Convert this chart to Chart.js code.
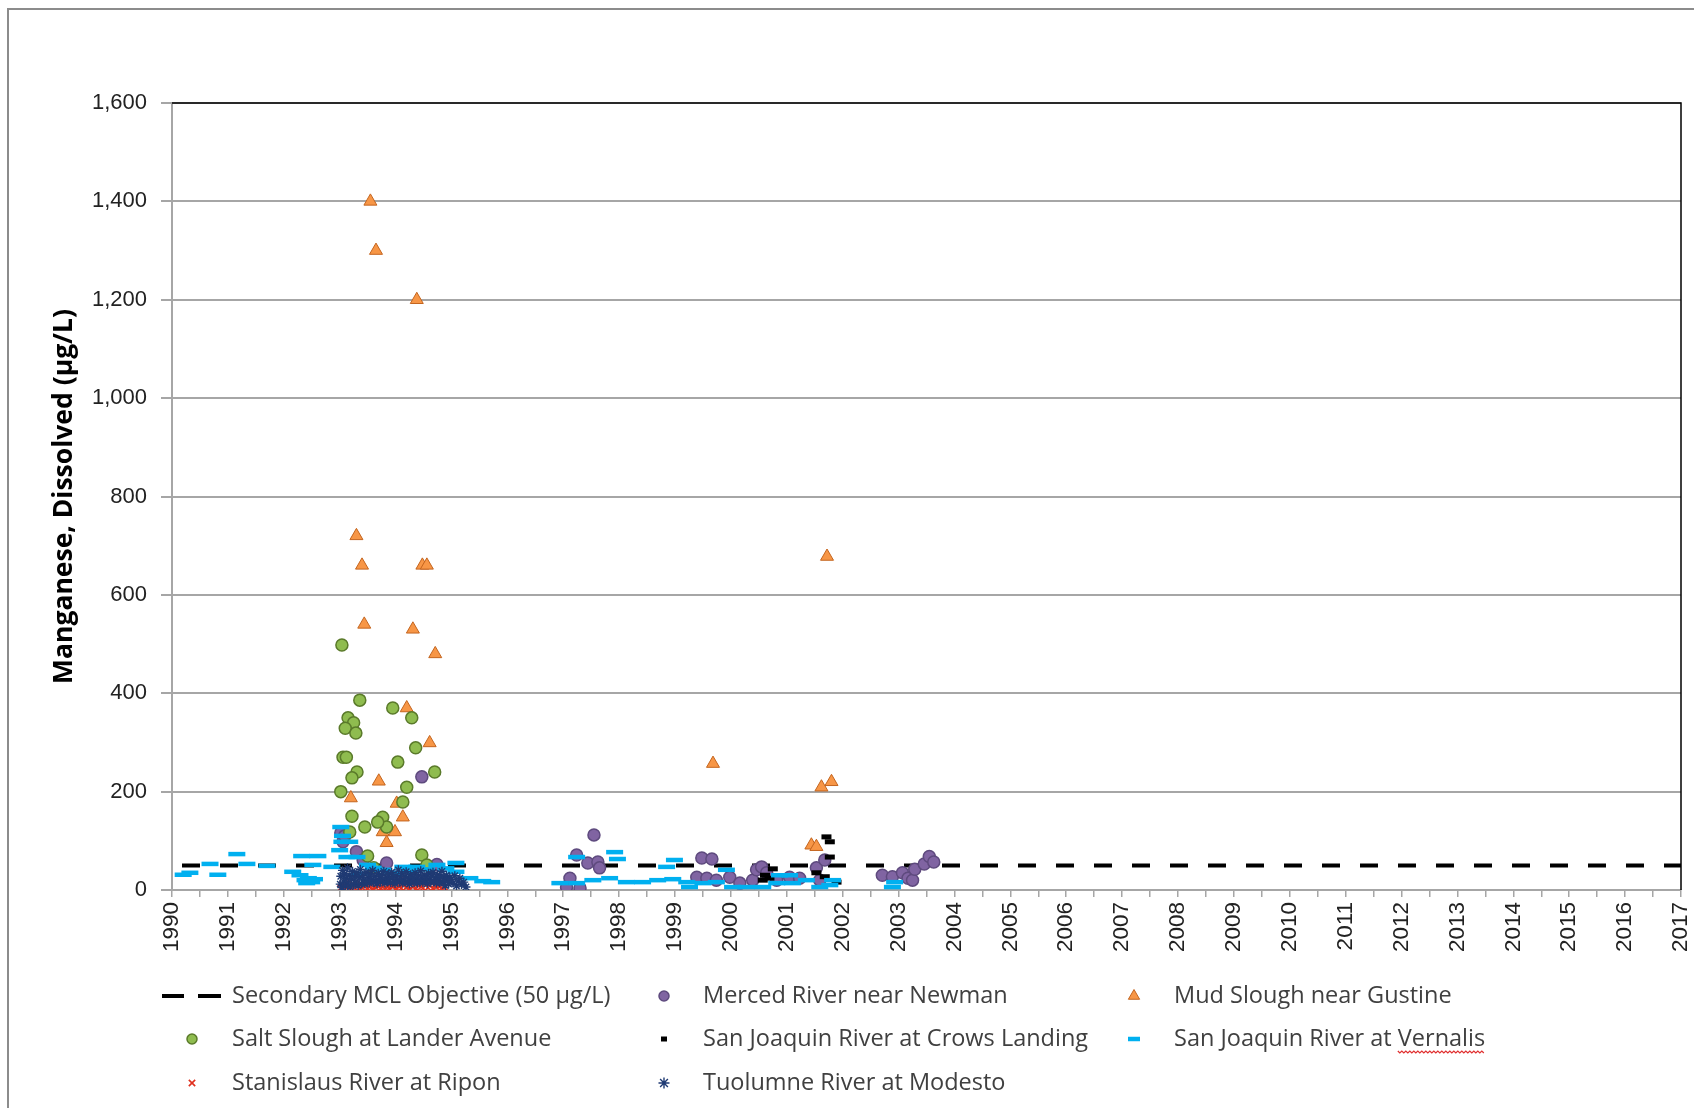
<!DOCTYPE html>
<html>
<head>
<meta charset="utf-8">
<script src="https://cdn.jsdelivr.net/npm/chart.js@4.4.1/dist/chart.umd.min.js"></script>
<style>
  html, body { margin: 0; padding: 0; background: #fff; }
  #wrap { width: 1694px; height: 1108px; position: relative; }
</style>
</head>
<body>
<div id="wrap"><canvas id="chart"></canvas></div>
<script>
// series names, legend order (3 columns)
const seriesNames = [
  "Secondary MCL Objective (50 µg/L)",
  "Merced River near Newman",
  "Mud Slough near Gustine",
  "Salt Slough at Lander Avenue",
  "San Joaquin River at Crows Landing",
  "San Joaquin River at Vernalis",
  "Stanislaus River at Ripon",
  "Tuolumne River at Modesto"
];

const yTicks = [0, 200, 400, 600, 800, 1000, 1200, 1400, 1600];

const mclYears = [1990, 2017];
const mclValues = [50, 50];

const mercedYears = [1993.02, 1993.06, 1993.09, 1993.30, 1993.42, 1993.84, 1994.47, 1994.74,
  1997.06, 1997.12, 1997.24, 1997.30, 1997.44, 1997.55, 1997.62, 1997.65,
  1999.39, 1999.48, 1999.57, 1999.66, 1999.74, 1999.98, 2000.16, 2000.39, 2000.46, 2000.55,
  2000.64, 2000.82, 2001.05, 2001.23, 2001.53, 2001.59, 2001.68,
  2002.71, 2002.89, 2003.07, 2003.17, 2003.25, 2003.29, 2003.46, 2003.55, 2003.63];
const mercedValues = [116, 98, 110, 78, 61, 55, 230, 52,
  6, 24, 71, 4, 55, 112, 57, 45,
  26, 65, 24, 63, 20, 26, 14, 20, 41, 47,
  35, 20, 26, 24, 45, 20, 61,
  30, 27, 35, 24, 20, 42, 53, 68, 57];

const mudYears = [1993.20, 1993.30, 1993.40, 1993.44, 1993.55, 1993.65, 1993.70, 1993.77, 1993.84,
  1993.99, 1994.02, 1994.13, 1994.20, 1994.31, 1994.38, 1994.48, 1994.56, 1994.61, 1994.71,
  1999.68, 2001.44, 2001.53, 2001.62, 2001.72, 2001.80];
const mudValues = [187, 720, 660, 540, 1400, 1300, 221, 118, 96,
  118, 176, 148, 370, 530, 1200, 660, 660, 299, 480,
  257, 91, 88, 209, 678, 220];

const saltYears = [1993.04, 1993.36, 1993.95, 1994.29, 1993.15, 1993.25, 1993.10, 1993.29,
  1993.06, 1993.12, 1994.36, 1994.04, 1993.31, 1993.22, 1994.70, 1994.20, 1993.02, 1994.13,
  1993.22, 1993.77, 1993.45, 1993.84, 1993.68, 1993.18, 1993.50, 1994.47, 1993.61, 1994.56];
const saltValues = [498, 386, 370, 350, 350, 340, 329, 319,
  270, 270, 289, 260, 240, 228, 240, 209, 200, 179,
  150, 148, 128, 128, 138, 118, 69, 71, 45, 51];

const crowsYears = [2000.57, 2000.61, 2000.69, 2000.75, 2001.53, 2001.68, 2001.71, 2001.77, 2001.77, 2001.89];
const crowsValues = [20, 30, 24, 43, 35, 27, 108, 98, 67, 16];

const vernalisYears = [1990.20, 1990.32, 1990.68, 1990.82, 1991.16, 1991.34, 1991.70,
  1992.16, 1992.29, 1992.32, 1992.38, 1992.44, 1992.41, 1992.50, 1992.52, 1992.55, 1992.61, 1992.86,
  1993.02, 1993.04, 1993.00, 1993.13, 1993.31, 1993.18, 1993.05, 1993.35, 1993.50, 1993.60,
  1993.77, 1993.95, 1994.13, 1994.25, 1994.38, 1994.55, 1994.74, 1994.90, 1995.08, 1995.08,
  1995.33, 1995.56, 1995.72,
  1996.94, 1997.24, 1997.24, 1997.53, 1997.83, 1997.92, 1997.97, 1998.13, 1998.42, 1998.69,
  1998.85, 1998.96, 1998.99, 1999.21, 1999.26, 1999.50, 1999.74, 1999.92, 2000.03, 2000.28,
  2000.57, 2000.82, 2000.87, 2001.05, 2001.10, 2001.35, 2001.59, 2001.77, 2001.82,
  2002.89, 2002.93];
const vernalisValues = [31, 35, 53, 31, 73, 53, 49,
  37, 30, 69, 20, 24, 14, 16, 51, 22, 69, 47,
  128, 98, 81, 67, 67, 98, 110, 33, 51, 45,
  41, 35, 47, 38, 47, 42, 51, 44, 55, 37,
  24, 18, 16,
  14, 14, 67, 20, 24, 77, 63, 16, 16, 20,
  47, 22, 61, 16, 6, 14, 16, 41, 6, 6,
  6, 14, 30, 30, 14, 20, 6, 10, 20,
  6, 16];

const stanYears = [1993.02, 1993.05, 1993.08, 1993.11, 1993.14, 1993.17, 1993.20, 1993.23, 1993.26,
  1993.29, 1993.32, 1993.35, 1993.38, 1993.41, 1993.44, 1993.47, 1993.50, 1993.53, 1993.56,
  1993.59, 1993.62, 1993.65, 1993.68, 1993.71, 1993.74, 1993.77, 1993.80, 1993.83, 1993.86,
  1993.89, 1993.92, 1993.95, 1993.98, 1994.01, 1994.04, 1994.07, 1994.10, 1994.13, 1994.16,
  1994.19, 1994.22, 1994.25, 1994.28, 1994.31, 1994.34, 1994.37, 1994.40, 1994.43, 1994.46,
  1994.49, 1994.52, 1994.55, 1994.58, 1994.61, 1994.64, 1994.67, 1994.70, 1994.73, 1994.76,
  1994.79, 1994.82, 1994.85, 1994.88];
const stanValues = [4, 10, 2, 14, 6, 9, 3, 12, 5,
  16, 7, 2, 11, 4, 8, 13, 3, 6, 10,
  2, 15, 5, 8, 12, 3, 6, 18, 4, 9,
  2, 13, 6, 10, 3, 15, 7, 4, 11, 20,
  5, 9, 2, 14, 6, 17, 3, 10, 22, 7,
  4, 13, 18, 5, 9, 15, 3, 11, 6, 16,
  8, 2, 12, 5];

const tuolYears = [1993.01, 1993.02, 1993.04, 1993.05, 1993.07, 1993.09, 1993.10, 1993.12, 1993.14,
  1993.15, 1993.17, 1993.19, 1993.21, 1993.23, 1993.25, 1993.27, 1993.29, 1993.31, 1993.33,
  1993.35, 1993.37, 1993.39, 1993.41, 1993.43, 1993.45, 1993.47, 1993.49, 1993.51, 1993.53,
  1993.55, 1993.57, 1993.59, 1993.61, 1993.63, 1993.65, 1993.67, 1993.69, 1993.71, 1993.73,
  1993.75, 1993.77, 1993.79, 1993.81, 1993.83, 1993.85, 1993.87, 1993.89, 1993.91, 1993.93,
  1993.95, 1993.97, 1993.99, 1994.01, 1994.03, 1994.05, 1994.07, 1994.09, 1994.11, 1994.13,
  1994.15, 1994.17, 1994.19, 1994.21, 1994.23, 1994.25, 1994.27, 1994.29, 1994.31, 1994.33,
  1994.35, 1994.37, 1994.39, 1994.41, 1994.43, 1994.45, 1994.47, 1994.49, 1994.51, 1994.53,
  1994.55, 1994.57, 1994.59, 1994.61, 1994.63, 1994.65, 1994.67, 1994.69, 1994.71, 1994.73,
  1994.75, 1994.77, 1994.79, 1994.81, 1994.83, 1994.85, 1994.87, 1994.89, 1994.91, 1994.93,
  1994.95, 1994.97, 1995.00, 1995.03, 1995.06, 1995.09, 1995.12, 1995.15, 1995.18, 1995.22, 1995.26];
const tuolValues = [12, 28, 5, 40, 18, 33, 8, 24, 45,
  14, 30, 6, 22, 38, 11, 27, 16, 35, 9,
  25, 42, 13, 30, 20, 12, 36, 17, 26, 14,
  33, 21, 40, 15, 28, 18, 13, 34, 23, 16,
  30, 19, 38, 14, 25, 17, 32, 21, 15, 36,
  26, 17, 13, 29, 20, 41, 16, 24, 33, 14,
  19, 28, 37, 15, 23, 12, 31, 18, 26, 15,
  35, 22, 14, 29, 16, 39, 24, 15, 30, 19,
  27, 13, 34, 21, 16, 28, 36, 17, 25, 14,
  31, 20, 15, 27, 38, 16, 24, 9, 30, 19,
  12, 26, 21, 14, 29, 8, 18, 24, 11, 16, 6];

function pts(xs, ys) {
  return xs.map((x, i) => ({ x: x, y: ys[i] }));
}

// legend layout (pixel positions of the 3x3 grid)
const legendSymbolX = [192, 664, 1134];
const legendTextX = [232, 703, 1174];
const legendRowY = [996, 1039, 1083];
const legendRadius = [0, 5, 6.5, 5, 3, 6, 4.5, 5.5];

const frameAndLegend = {
  id: "frameAndLegend",
  beforeDraw(chart) {
    const ctx = chart.ctx;
    ctx.save();
    ctx.fillStyle = "#fff";
    ctx.fillRect(0, 0, chart.width, chart.height);
    ctx.strokeStyle = "#8c8c8c";
    ctx.lineWidth = 2;
    ctx.strokeRect(8, 9, chart.width + 20, chart.height + 20);
    ctx.restore();
  },
  afterDraw(chart) {
    const ctx = chart.ctx;
    const a = chart.chartArea;
    ctx.save();
    // black top / right plot border
    ctx.strokeStyle = "#000";
    ctx.lineWidth = 1.5;
    ctx.beginPath();
    ctx.moveTo(a.left, a.top);
    ctx.lineTo(a.right, a.top);
    ctx.lineTo(a.right, a.bottom);
    ctx.stroke();

    ctx.font = "23.5px 'Open Sans'";
    ctx.textBaseline = "middle";
    chart.data.datasets.forEach((ds, i) => {
      const r = Math.floor(i / 3), c = i % 3;
      const cx = legendSymbolX[c], cy = legendRowY[r];
      if (ds.showLine) {
        ctx.strokeStyle = ds.borderColor;
        ctx.lineWidth = 4;
        ctx.setLineDash([]);
        ctx.beginPath();
        ctx.moveTo(162, cy); ctx.lineTo(184, cy);
        ctx.moveTo(198, cy); ctx.lineTo(221, cy);
        ctx.stroke();
      } else {
        ctx.fillStyle = ds.backgroundColor;
        ctx.strokeStyle = ds.borderColor;
        ctx.lineWidth = ds.borderWidth;
        Chart.helpers.drawPoint(ctx, {
          pointStyle: ds.pointStyle, radius: legendRadius[i],
          borderWidth: ds.borderWidth, rotation: 0
        }, cx, cy);
      }
      ctx.fillStyle = "#404040";
      ctx.fillText(ds.label, legendTextX[c], cy);
      if (i === 5) {
        // spell-check squiggle under "Vernalis"
        const pre = ctx.measureText("San Joaquin River at ").width;
        const w = ctx.measureText("Vernalis").width;
        const x0 = legendTextX[c] + pre, y0 = cy + 12;
        ctx.strokeStyle = "#e03030";
        ctx.lineWidth = 1.2;
        ctx.beginPath();
        for (let x = 0; x <= w; x += 2) {
          const yy = y0 + ((x / 2) % 2 === 0 ? 0 : 2);
          if (x === 0) ctx.moveTo(x0 + x, yy); else ctx.lineTo(x0 + x, yy);
        }
        ctx.stroke();
      }
    });
    ctx.restore();
  }
};

function build() {
  const datasets = [
    {
      label: seriesNames[0], type: "line", data: pts(mclYears, mclValues), showLine: true,
      borderColor: "#000", backgroundColor: "#000", borderWidth: 4,
      borderDash: [18, 20], borderDashOffset: 28, pointRadius: 0, fill: false, order: 8
    },
    {
      label: seriesNames[1], data: pts(mercedYears, mercedValues), pointStyle: "circle",
      pointRadius: 6, backgroundColor: "#8064a2", borderColor: "#5e4a7e", borderWidth: 1.5, order: 7
    },
    {
      label: seriesNames[2], data: pts(mudYears, mudValues), pointStyle: "triangle",
      pointRadius: 7.5, backgroundColor: "#f79646", borderColor: "#c4651f", borderWidth: 1, order: 6
    },
    {
      label: seriesNames[3], data: pts(saltYears, saltValues), pointStyle: "circle",
      pointRadius: 6, backgroundColor: "#8fbc4f", borderColor: "#5a7a2a", borderWidth: 1.5, order: 5
    },
    {
      label: seriesNames[4], data: pts(crowsYears, crowsValues), pointStyle: "line",
      pointRadius: 5, backgroundColor: "#000", borderColor: "#000", borderWidth: 5, order: 4
    },
    {
      label: seriesNames[5], data: pts(vernalisYears, vernalisValues), pointStyle: "line",
      pointRadius: 8.5, backgroundColor: "#00b0f0", borderColor: "#00b0f0", borderWidth: 4.5, order: 3
    },
    {
      label: seriesNames[6], data: pts(stanYears, stanValues), pointStyle: "crossRot",
      pointRadius: 4.5, backgroundColor: "#e0301e", borderColor: "#e0301e", borderWidth: 1.6, order: 2
    },
    {
      label: seriesNames[7], data: pts(tuolYears, tuolValues), pointStyle: "star",
      pointRadius: 4.5, backgroundColor: "#1f3a73", borderColor: "#1f3a73", borderWidth: 1.4, order: 1
    }
  ];

  new Chart(document.getElementById("chart"), {
    type: "scatter",
    data: { datasets: datasets },
    options: {
      responsive: true,
      maintainAspectRatio: false,
      animation: false,
      layout: { padding: { top: 103, right: 12, left: 0, bottom: 0 } },
      plugins: {
        legend: { display: false },
        tooltip: { enabled: false }
      },
      scales: {
        x: {
          type: "linear",
          min: 1990,
          max: 2017,
          afterFit(scale) {
            scale.height = 218;
            scale.paddingLeft = 0;
            scale.paddingRight = 0;
          },
          border: { color: "#a6a6a6", width: 2 },
          grid: { drawOnChartArea: false, drawTicks: true, tickLength: 7, color: "#a6a6a6", lineWidth: 1.5 },
          ticks: {
            stepSize: 0.5,
            autoSkip: false,
            minRotation: 90,
            maxRotation: 90,
            padding: 5,
            color: "#222",
            font: { family: "Liberation Sans", size: 22.5 },
            callback: (v) => Math.abs(v - Math.round(v)) < 1e-6 ? String(Math.round(v)) : ""
          }
        },
        y: {
          min: yTicks[0],
          max: yTicks[yTicks.length - 1],
          afterFit(scale) {
            scale.width = 172;
            scale.paddingTop = 0;
            scale.paddingBottom = 0;
          },
          afterBuildTicks(scale) { scale.ticks = yTicks.map(v => ({ value: v })); },
          border: { color: "#a6a6a6", width: 2 },
          grid: { color: "#a6a6a6", lineWidth: 2, tickLength: 11 },
          ticks: {
            padding: 14,
            color: "#222",
            font: { family: "Liberation Sans", size: 22 },
            callback: (v) => v.toLocaleString("en-US")
          },
          title: {
            display: true,
            text: "Manganese, Dissolved (µg/L)",
            color: "#000",
            font: { family: "Open Sans", size: 26.5, weight: "bold" },
            padding: { top: 49, bottom: 0 }
          }
        }
      }
    },
    plugins: [frameAndLegend]
  });
}

Promise.all([
  document.fonts.load("23.5px 'Open Sans'"),
  document.fonts.load("bold 26.5px 'Open Sans'"),
  document.fonts.load("20px 'Liberation Sans'")
]).then(build, build);
</script>
</body>
</html>
